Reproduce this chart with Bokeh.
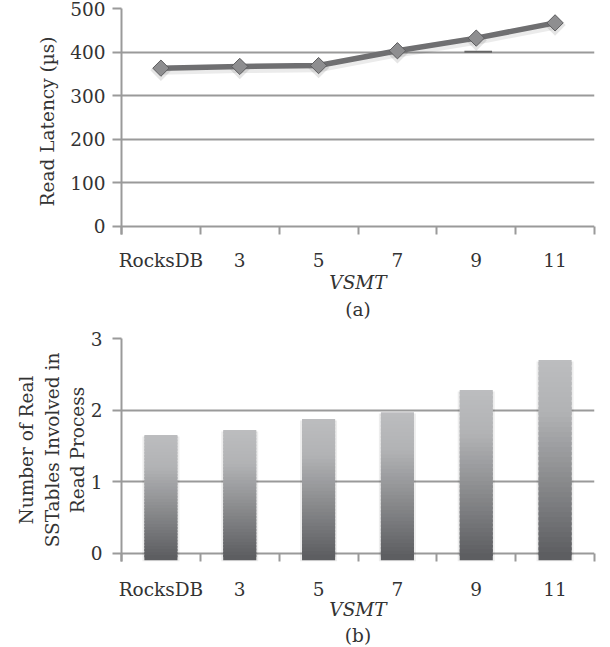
from bokeh.plotting import figure
from bokeh.models import Range1d, FixedTicker, Title
from bokeh.layouts import column
from bokeh.embed import file_html
from bokeh.resources import INLINE

# ---------------- data ----------------
categories = ["RocksDB", "3", "5", "7", "9", "11"]
read_latency = [363, 367, 369, 403, 432, 467]          # µs
sstables_involved = [1.65, 1.72, 1.875, 1.97, 2.28, 2.70]
stray_mark_value = 401                                  # small dash seen near "9"
latency_ticks = [0, 100, 200, 300, 400, 500]
sstable_ticks = [0, 1, 2, 3]

# ---------------- style ----------------
FONT = "DejaVu Serif"
FS = "18.5px"
TXT = "#333333"
GRID = "#9a9a9a"
n = len(categories)
centers = [i + 0.5 for i in range(n)]
bounds = list(range(n + 1))


def style(p, yticks, tick_standoff, label_standoff, ylab_standoff):
    p.outline_line_color = None
    p.background_fill_color = "white"
    p.border_fill_color = "white"
    p.xgrid.visible = False
    p.ygrid.grid_line_color = GRID
    p.ygrid.grid_line_width = 2
    p.yaxis.ticker = FixedTicker(ticks=yticks)
    p.ygrid.ticker = FixedTicker(ticks=yticks)
    p.xaxis.ticker = FixedTicker(ticks=centers, minor_ticks=bounds)
    p.xaxis.major_label_overrides = {c: lab for c, lab in zip(centers, categories)}
    for ax in (p.xaxis[0], p.yaxis[0]):
        ax.major_label_text_font = FONT
        ax.major_label_text_font_size = FS
        ax.major_label_text_color = TXT
        ax.axis_label_text_font = FONT
        ax.axis_label_text_font_size = FS
        ax.axis_label_text_color = TXT
    xa = p.xaxis[0]
    xa.axis_line_color = None
    xa.major_tick_line_color = None
    xa.major_tick_in = 0
    xa.major_tick_out = 0
    xa.minor_tick_line_color = GRID
    xa.minor_tick_line_width = 2
    xa.minor_tick_in = 8
    xa.minor_tick_out = 0
    xa.major_label_standoff = tick_standoff
    xa.axis_label = "VSMT"
    xa.axis_label_text_font_style = "italic"
    xa.axis_label_standoff = label_standoff
    ya = p.yaxis[0]
    ya.axis_line_color = GRID
    ya.axis_line_width = 2
    ya.major_tick_line_color = GRID
    ya.major_tick_line_width = 2
    ya.major_tick_in = 0
    ya.major_tick_out = 9
    ya.minor_tick_line_color = None
    ya.axis_label_text_font_style = "normal"
    ya.axis_label_standoff = ylab_standoff


# ---------------- (a) read latency ----------------
p1 = figure(width=602, height=320, x_range=Range1d(0, n), y_range=Range1d(-18.8, 500),
            output_backend="svg", toolbar_location=None,
            min_border_left=115, min_border_right=8, min_border_top=8, min_border_bottom=85)
style(p1, latency_ticks, 15, -2, 9)
p1.yaxis.major_label_standoff = 7
p1.yaxis.axis_label = "Read Latency (µs)"

# soft shadow under the line and markers
shadow = [v - 5 for v in read_latency]
p1.line(centers, shadow, line_color="black", line_alpha=0.08, line_width=9)
p1.scatter(centers, shadow, marker="square", angle=0.785398, size=15,
           fill_color="black", fill_alpha=0.10, line_color=None)
p1.line(centers, read_latency, line_color="#6f6f71", line_width=5.5)
p1.scatter(centers, read_latency, marker="square", angle=0.785398, size=11.5,
           fill_color="#8e8e90", line_color="#5d5d5f", line_width=1)
p1.segment(x0=[centers[4] - 0.15], x1=[centers[4] + 0.2], y0=[stray_mark_value],
           y1=[stray_mark_value], line_color="#666666", line_width=2)
p1.add_layout(Title(text="(a)", align="center", text_font=FONT, text_font_size=FS,
                    text_font_style="normal", text_color=TXT, standoff=2), "below")

# ---------------- (b) SSTables involved ----------------
p2 = figure(width=602, height=327, x_range=Range1d(0, n), y_range=Range1d(-0.117, 3.0),
            output_backend="svg", toolbar_location=None,
            min_border_left=121, min_border_right=8, min_border_top=18, min_border_bottom=86)
style(p2, sstable_ticks, 17, -4, 0)
p2.yaxis.major_label_standoff = 10
p2.yaxis.axis_label = "Number of Real\nSSTables Involved in\nRead Process"
p2.yaxis.axis_label_text_line_height = 1.2

# vertical gradient bars built from stacked slices of each value
bar_base = -0.1
N = 40
stops = [(0.0, (188, 189, 191)), (0.28, (177, 178, 180)), (1.0, (92, 93, 96))]


def grad(t):
    for (t0, c0), (t1, c1) in zip(stops[:-1], stops[1:]):
        if t <= t1:
            f = (t - t0) / (t1 - t0)
            return "#%02x%02x%02x" % tuple(int(round(a + (b - a) * f)) for a, b in zip(c0, c1))
    return "#%02x%02x%02x" % stops[-1][1]


xs, tops, bots, cols = [], [], [], []
for x, v in zip(centers, sstables_involved):
    span = v - bar_base
    for k in range(N):
        xs.append(x)
        tops.append(v - span * max(k - 0.6, 0) / N)
        bots.append(v - span * (k + 1) / N)
        cols.append(grad((k + 0.5) / N))
# faint shadow beside the bars
p2.vbar(x=centers, top=[v - 0.02 for v in sstables_involved], bottom=bar_base - 0.02,
        width=0.47, fill_color="black", fill_alpha=0.07, line_color=None)
p2.vbar(x=xs, top=tops, bottom=bots, width=0.42, fill_color=cols, line_color=None)
p2.add_layout(Title(text="(b)", align="center", text_font=FONT, text_font_size=FS,
                    text_font_style="normal", text_color=TXT, standoff=1), "below")

layout = column(p1, p2, spacing=0)
open("out.html", "w").write(file_html(layout, INLINE))
